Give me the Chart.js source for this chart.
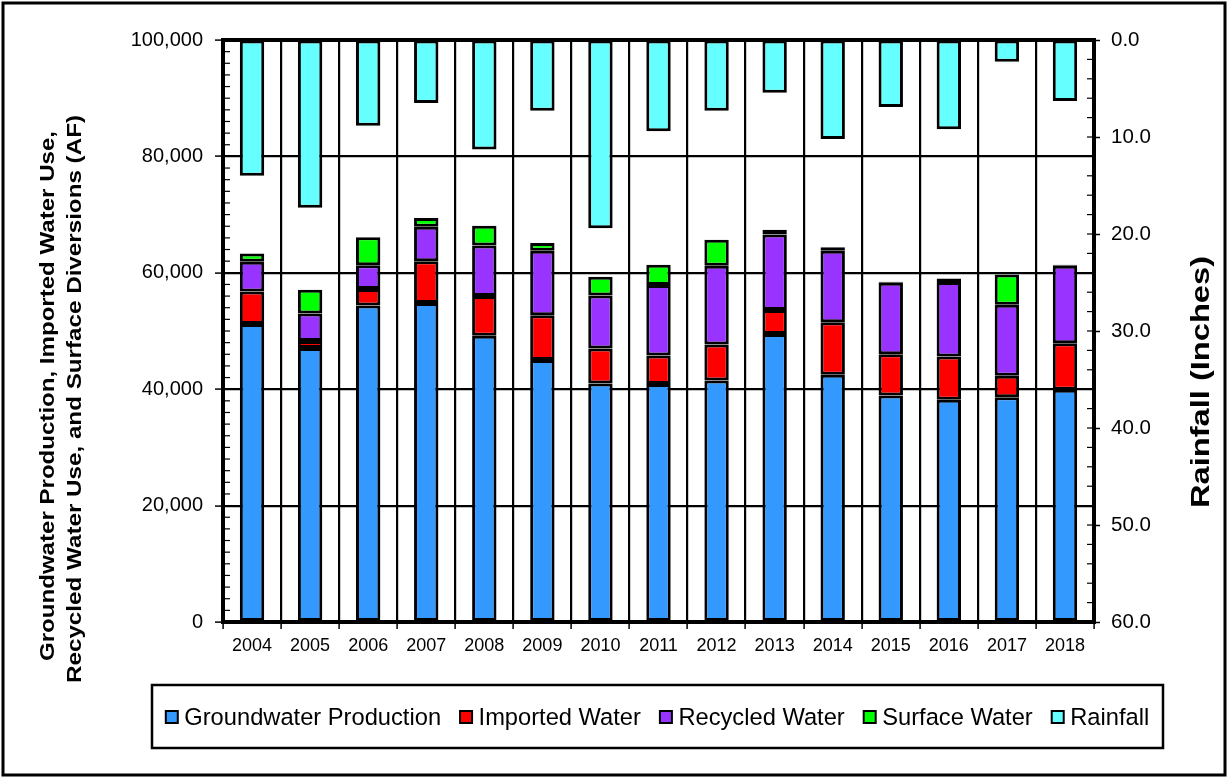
<!DOCTYPE html>
<html>
<head>
<meta charset="utf-8">
<title>Water Use and Rainfall</title>
<script src="https://cdn.jsdelivr.net/npm/chart.js@4.4.1/dist/chart.umd.min.js"></script>
<style>
body { margin: 0; background: #fff; }
canvas { display: block; }
</style>
</head>
<body>
<canvas id="grafico" width="1228" height="778"></canvas>
<script>
// dados (AF e polegadas)
const anos = ['2004', '2005', '2006', '2007', '2008', '2009', '2010', '2011', '2012', '2013', '2014', '2015', '2016', '2017', '2018'];
const groundwater = [51200, 47100, 54400, 54800, 49200, 45000, 41000, 40900, 41500, 49500, 42500, 38900, 38200, 38600, 39900];
const imported = [5600, 1200, 2800, 7200, 6800, 7700, 6000, 4900, 6200, 4100, 9000, 7100, 7400, 3700, 8000];
const recycled = [5100, 4700, 4100, 5900, 8700, 11100, 9100, 12100, 13500, 13000, 12300, 12300, 12800, 12200, 13300];
const surface = [1400, 4100, 4800, 1500, 3400, 1300, 3200, 3500, 4500, 800, 600, 150, 600, 5200, 200];
const rainfall = [14.0, 17.3, 8.85, 6.5, 11.3, 7.3, 19.4, 9.4, 7.3, 5.45, 10.2, 6.9, 9.2, 2.25, 6.3];

const leftTicks = [0, 20000, 40000, 60000, 80000, 100000];
const rightTicks = [0, 10, 20, 30, 40, 50, 60];
const yTitle = ['Groundwater Production, Imported Water Use,', 'Recycled Water Use, and Surface Diversions (AF)'];
const y2Title = 'Rainfall (Inches)';

const FONTE = '"Liberation Sans", Arial, sans-serif';

function serie(label, data, cor, eixo) {
    return {
        label: label,
        data: data,
        backgroundColor: cor,
        borderColor: '#000',
        borderWidth: 3,
        borderSkipped: false,
        yAxisID: eixo,
        stack: 'agua',
        categoryPercentage: 1,
        barPercentage: 0.42
    };
}

// texto vertical esticado ate um comprimento fixo
function textoVertical(ctx, texto, x, y, fonte, comprimento) {
    ctx.save();
    ctx.translate(x, y);
    ctx.rotate(-Math.PI / 2);
    ctx.font = fonte;
    const w = ctx.measureText(texto).width;
    ctx.scale(comprimento / w, 1);
    ctx.fillText(texto, 0, 0);
    ctx.restore();
}

const extras = {
    id: 'extras',
    afterDatasetsDraw(chart) {
        const ctx = chart.ctx;
        const a = chart.chartArea;
        const y = chart.scales.y;
        const y2 = chart.scales.y2;
        ctx.save();
        ctx.strokeStyle = '#000';
        ctx.lineWidth = 1.2;
        // marcas menores
        for (let v = 0; v <= 100000; v += 2000) {
            const p = y.getPixelForValue(v);
            ctx.beginPath();
            ctx.moveTo(a.left, p);
            ctx.lineTo(a.left + 7, p);
            ctx.stroke();
        }
        for (let v = 0; v <= 60; v += 2) {
            const p = y2.getPixelForValue(v);
            ctx.beginPath();
            ctx.moveTo(a.right - 7, p);
            ctx.lineTo(a.right, p);
            ctx.stroke();
        }
        ctx.lineWidth = 4;
        ctx.strokeRect(a.left, a.top, a.right - a.left, a.bottom - a.top);
        ctx.restore();
    },
    afterDraw(chart) {
        const ctx = chart.ctx;
        ctx.save();
        ctx.fillStyle = '#000';
        ctx.textAlign = 'center';
        ctx.textBaseline = 'middle';
        textoVertical(ctx, yTitle[0], 48, 396, 'bold 20px ' + FONTE, 530);
        textoVertical(ctx, yTitle[1], 75, 399, 'bold 20px ' + FONTE, 568);
        textoVertical(ctx, y2Title, 1202, 382, 'bold 26px ' + FONTE, 252);

        // legenda com moldura
        ctx.strokeStyle = '#000';
        ctx.lineWidth = 2.5;
        ctx.strokeRect(152, 685, 1011, 63);
        ctx.font = '23.7px ' + FONTE;
        ctx.textAlign = 'left';
        const itens = chart.data.datasets;
        let total = 0;
        itens.forEach((d, i) => {
            total += 18.5 + ctx.measureText(d.label).width + (i < itens.length - 1 ? 19 : 0);
        });
        let x = 657.5 - total / 2;
        itens.forEach(d => {
            ctx.fillStyle = d.backgroundColor;
            ctx.fillRect(x, 711, 12, 12);
            ctx.lineWidth = 2;
            ctx.strokeRect(x, 711, 12, 12);
            ctx.fillStyle = '#000';
            ctx.fillText(d.label, x + 18.5, 718);
            x += 18.5 + ctx.measureText(d.label).width + 19;
        });

        // moldura externa
        ctx.lineWidth = 3;
        ctx.strokeRect(3, 3, 1222, 772);
        ctx.restore();
    }
};

const ctx = document.getElementById('grafico').getContext('2d');
const grafico = new Chart(ctx, {
    type: 'bar',
    data: {
        labels: anos,
        datasets: [
            serie('Groundwater Production', groundwater, '#3399FF', 'y'),
            serie('Imported Water', imported, '#FF0000', 'y'),
            serie('Recycled Water', recycled, '#9933FF', 'y'),
            serie('Surface Water', surface, '#00FF00', 'y'),
            serie('Rainfall', rainfall, '#66FFFF', 'y2')
        ]
    },
    options: {
        responsive: false,
        devicePixelRatio: 1,
        animation: false,
        layout: {
            padding: { left: 100, right: 0, top: 40, bottom: 116 }
        },
        plugins: {
            legend: { display: false },
            tooltip: { enabled: false }
        },
        scales: {
            x: {
                stacked: true,
                afterFit: (s) => { s.height = 40; },
                grid: { color: '#000', lineWidth: 2.2, tickLength: 7, tickWidth: 1.5, offset: true },
                border: { display: false },
                ticks: { color: '#000', font: { family: FONTE, size: 18 }, padding: 6 }
            },
            y: {
                stacked: true,
                position: 'left',
                min: 0,
                max: 100000,
                afterFit: (s) => { s.width = 123; },
                afterBuildTicks: (s) => { s.ticks = leftTicks.map(v => ({ value: v })); },
                grid: { color: '#000', lineWidth: 2.2, tickLength: 8, tickWidth: 1.5 },
                border: { display: false },
                ticks: {
                    color: '#000',
                    font: { family: FONTE, size: 20 },
                    padding: 12,
                    callback: (v) => v.toLocaleString('en-US')
                }
            },
            y2: {
                stacked: true,
                position: 'right',
                reverse: true,
                min: 0,
                max: 60,
                afterFit: (s) => { s.width = 134; },
                afterBuildTicks: (s) => { s.ticks = rightTicks.map(v => ({ value: v })); },
                grid: { drawOnChartArea: false, color: '#000', tickLength: 6, tickWidth: 1.5 },
                border: { display: false },
                ticks: {
                    color: '#000',
                    font: { family: FONTE, size: 20.5 },
                    padding: 11,
                    callback: (v) => Number(v).toFixed(1)
                }
            }
        }
    },
    plugins: [extras]
});
</script>
</body>
</html>
